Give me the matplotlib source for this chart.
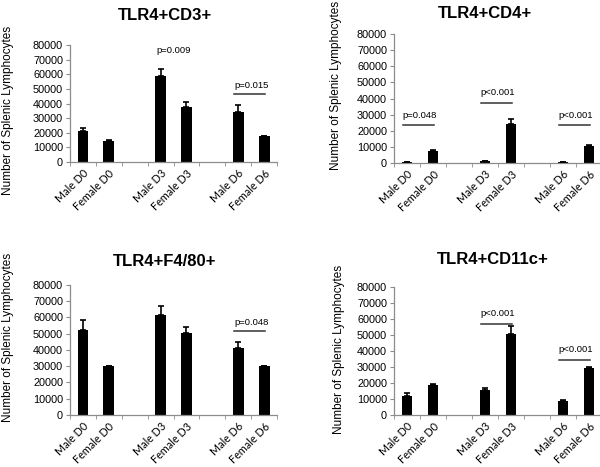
import matplotlib
matplotlib.use("Agg")
import matplotlib.pyplot as plt

plt.rcParams['font.family'] = ['Liberation Sans', 'DejaVu Sans']

categories = ['Male D0', 'Female D0', '', 'Male D3', 'Female D3', '', 'Male D6', 'Female D6']
groups = ['Male D0', 'Female D0', 'Male D3', 'Female D3', 'Male D6', 'Female D6']
yticks = [0, 10000, 20000, 30000, 40000, 50000, 60000, 70000, 80000]

titles = ['TLR4+CD3+', 'TLR4+CD4+', 'TLR4+F4/80+', 'TLR4+CD11c+']

cd3_mean = [21000, 14300, 58900, 37500, 34500, 18000]
cd3_err = [2500, 500, 5000, 3400, 4300, 0]
cd4_mean = [500, 7700, 1200, 24300, 500, 10800]
cd4_err = [0, 500, 0, 3000, 0, 400]
f480_mean = [52500, 30000, 61500, 50500, 41000, 30000]
f480_err = [5600, 300, 5600, 3500, 3900, 300]
cd11c_mean = [12200, 19000, 15800, 50500, 8700, 29500]
cd11c_err = [1600, 400, 1100, 5400, 400, 600]

# p-value annotations: (text, first group, second group, line y, text y)
cd3_p = [('p=0.009', 'Male D3', 'Female D3', None, 76000),
         ('p=0.015', 'Male D6', 'Female D6', 46800, 52500)]
cd4_p = [('p=0.048', 'Male D0', 'Female D0', 23300, 29500),
         ('p<0.001', 'Male D3', 'Female D3', 37500, 44000),
         ('p<0.001', 'Male D6', 'Female D6', 23300, 29500)]
f480_p = [('p=0.048', 'Male D6', 'Female D6', 51800, 56800)]
cd11c_p = [('p<0.001', 'Male D3', 'Female D3', 56800, 63300),
           ('p<0.001', 'Male D6', 'Female D6', 34100, 40700)]

fig = plt.figure(figsize=(6, 4.67), dpi=100)

panels = [
    ([0.1167, 0.653, 0.345, 0.2505], cd3_mean, cd3_err, cd3_p, (165, 16), (-0.27, 0.44)),
    ([0.6567, 0.651, 0.3467, 0.276], cd4_mean, cd4_err, cd4_p, (485, 13), (-0.25, 0.60)),
    ([0.1167, 0.1113, 0.345, 0.279], f480_mean, f480_err, f480_p, (165, 261), (-0.27, 0.595)),
    ([0.6567, 0.1113, 0.3467, 0.274], cd11c_mean, cd11c_err, cd11c_p, (493, 260), (-0.235, 0.51)),
]

axis_color = '#8c8c8c'

for title, (rect, means, errs, pvals, tpos, ylpos) in zip(titles, panels):
    ax = fig.add_axes(rect)
    xs = [categories.index(g) for g in groups]
    ax.bar(xs, means, width=0.42, color='black', zorder=2)
    ax.errorbar(xs, means, yerr=[[0] * len(errs), errs], fmt='none',
                ecolor='black', elinewidth=1.2, capsize=2.5, capthick=1.2, zorder=3)
    ax.set_xlim(-0.5, len(categories) - 0.5)
    ax.set_ylim(0, 80000)
    ax.set_yticks(yticks)
    ax.set_yticklabels([str(v) for v in yticks], fontsize=7.8)
    ax.set_xticks(xs)
    ax.set_xticklabels(groups, rotation=45, ha='right', rotation_mode='anchor',
                       fontsize=7.8, family=['Lato', 'DejaVu Sans'])
    ax.tick_params(axis='x', which='major', length=0, pad=4)
    ax.set_xticks([i - 0.5 for i in range(len(categories) + 1)], minor=True)
    ax.tick_params(axis='x', which='minor', length=3, color=axis_color, direction='out')
    ax.tick_params(axis='y', length=3, color=axis_color, pad=2)
    for s in ['top', 'right']:
        ax.spines[s].set_visible(False)
    for s in ['left', 'bottom']:
        ax.spines[s].set_color(axis_color)
        ax.spines[s].set_linewidth(0.9)
    ax.set_ylabel('Number of Splenic Lymphocytes', fontsize=8.5)
    ax.yaxis.set_label_coords(*ylpos)
    for text, g1, g2, ly, ty in pvals:
        x1 = categories.index(g1)
        x2 = categories.index(g2)
        if ly is not None:
            ax.plot([x1 - 0.15, x2 + 0.05], [ly, ly], color='#333333', lw=1.1,
                    clip_on=False, zorder=4)
        ax.text((x1 + x2) / 2, ty, text, ha='center', va='center', fontsize=6.8)
    fig.text(tpos[0] / 600, 1 - tpos[1] / 467, title, ha='center', va='center',
             fontsize=12, fontweight='bold')

fig.savefig('out.png', dpi=100)
